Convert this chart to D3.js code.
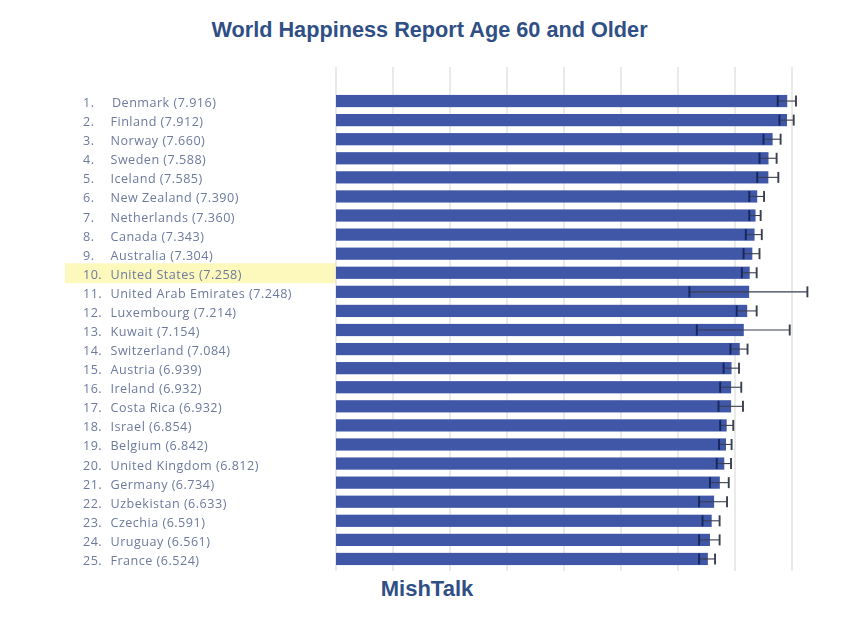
<!DOCTYPE html>
<html><head><meta charset="utf-8">
<script src="https://cdn.jsdelivr.net/npm/d3@7"></script>
<style>html,body{margin:0;background:#fff}svg{display:block}</style></head>
<body><svg id="c" width="848" height="617"></svg>
<script>
const countries=["Denmark","Finland","Norway","Sweden","Iceland","New Zealand","Netherlands","Canada","Australia","United States","United Arab Emirates","Luxembourg","Kuwait","Switzerland","Austria","Ireland","Costa Rica","Israel","Belgium","United Kingdom","Germany","Uzbekistan","Czechia","Uruguay","France"];
const scores=[7.916,7.912,7.660,7.588,7.585,7.390,7.360,7.343,7.304,7.258,7.248,7.214,7.154,7.084,6.939,6.932,6.932,6.854,6.842,6.812,6.734,6.633,6.591,6.561,6.524];
const scoreLabels=["7.916","7.912","7.660","7.588","7.585","7.390","7.360","7.343","7.304","7.258","7.248","7.214","7.154","7.084","6.939","6.932","6.932","6.854","6.842","6.812","6.734","6.633","6.591","6.561","6.524"];
const lows=[7.75,7.78,7.50,7.43,7.39,7.25,7.25,7.19,7.15,7.12,6.20,7.03,6.33,6.92,6.80,6.74,6.71,6.74,6.72,6.68,6.56,6.37,6.43,6.37,6.37];
const highs=[8.07,8.03,7.80,7.73,7.76,7.51,7.45,7.47,7.43,7.38,8.27,7.38,7.96,7.22,7.07,7.11,7.14,6.97,6.94,6.93,6.89,6.86,6.73,6.73,6.65];
const gridTicks=[0,1,2,3,4,5,6,7,8];
const highlighted="United States";

const svg=d3.select("#c");
const x=d3.scaleLinear().domain([0,8]).range([336,792]);
const y=d3.scaleBand().domain(countries).range([91.5,568.5]).paddingInner(0.36).paddingOuter(0.18);
const cy=d=>y(d)+y.bandwidth()/2;
const rows=countries.map((c,i)=>({c,i,score:scores[i],label:scoreLabels[i],lo:lows[i],hi:highs[i]}));
const soft=svg.append("defs").append("filter").attr("id","soft").attr("x","-5%").attr("y","-5%").attr("width","110%").attr("height","110%");
soft.append("feGaussianBlur").attr("stdDeviation",0.55);
const g=svg.append("g").attr("filter","url(#soft)");

g.append("rect").attr("x",65).attr("width",x(0)-65).attr("y",cy(highlighted)-9.5).attr("height",20).attr("fill","#fdf8bc");
g.append("g").selectAll("line").data(gridTicks).join("line")
 .attr("x1",d=>x(d)).attr("x2",d=>x(d)).attr("y1",67).attr("y2",571).attr("stroke","#dcdcdc").attr("stroke-width",1.2);
g.append("g").selectAll("rect").data(rows).join("rect")
 .attr("x",x(0)).attr("y",d=>y(d.c)).attr("width",d=>x(d.score)-x(0)).attr("height",y.bandwidth()).attr("fill","#3f57a6");
const err=g.append("g").selectAll("g").data(rows).join("g");
err.append("line").attr("x1",d=>x(d.lo)).attr("x2",d=>x(d.hi)).attr("y1",d=>cy(d.c)).attr("y2",d=>cy(d.c)).attr("stroke","#3a3f50").attr("stroke-width",1.1);
err.append("line").attr("x1",d=>x(d.lo)).attr("x2",d=>x(d.lo)).attr("y1",d=>cy(d.c)-5.5).attr("y2",d=>cy(d.c)+5.5).attr("stroke","#14265e").attr("stroke-width",1.9);
err.append("line").attr("x1",d=>x(d.hi)).attr("x2",d=>x(d.hi)).attr("y1",d=>cy(d.c)-5.5).attr("y2",d=>cy(d.c)+5.5).attr("stroke","#3a3f50").attr("stroke-width",1.9);
const t=g.append("g").attr("font-family","'Open Sans', sans-serif").attr("font-size",12.6).attr("fill","#6d7a9e").attr("letter-spacing",0.48);
t.selectAll("text.r").data(rows).join("text").attr("class","r").attr("x",83).attr("y",d=>cy(d.c)+6).text(d=>(d.i+1)+".");
t.selectAll("text.n").data(rows).join("text").attr("class","n").attr("x",d=>d.i===0?112:110.5).attr("y",d=>cy(d.c)+6).text(d=>`${d.c} (${d.label})`);
svg.append("text").attr("x",429.5).attr("y",36.5).attr("text-anchor","middle").attr("font-family","Liberation Sans, Arial, sans-serif").attr("font-weight",700).attr("font-size",21.7).attr("fill","#2f4f85").text("World Happiness Report Age 60 and Older");
svg.append("text").attr("x",427).attr("y",596).attr("text-anchor","middle").attr("font-family","Liberation Sans, Arial, sans-serif").attr("font-weight",700).attr("font-size",22).attr("fill","#2f4f85").text("MishTalk");
</script></body></html>
